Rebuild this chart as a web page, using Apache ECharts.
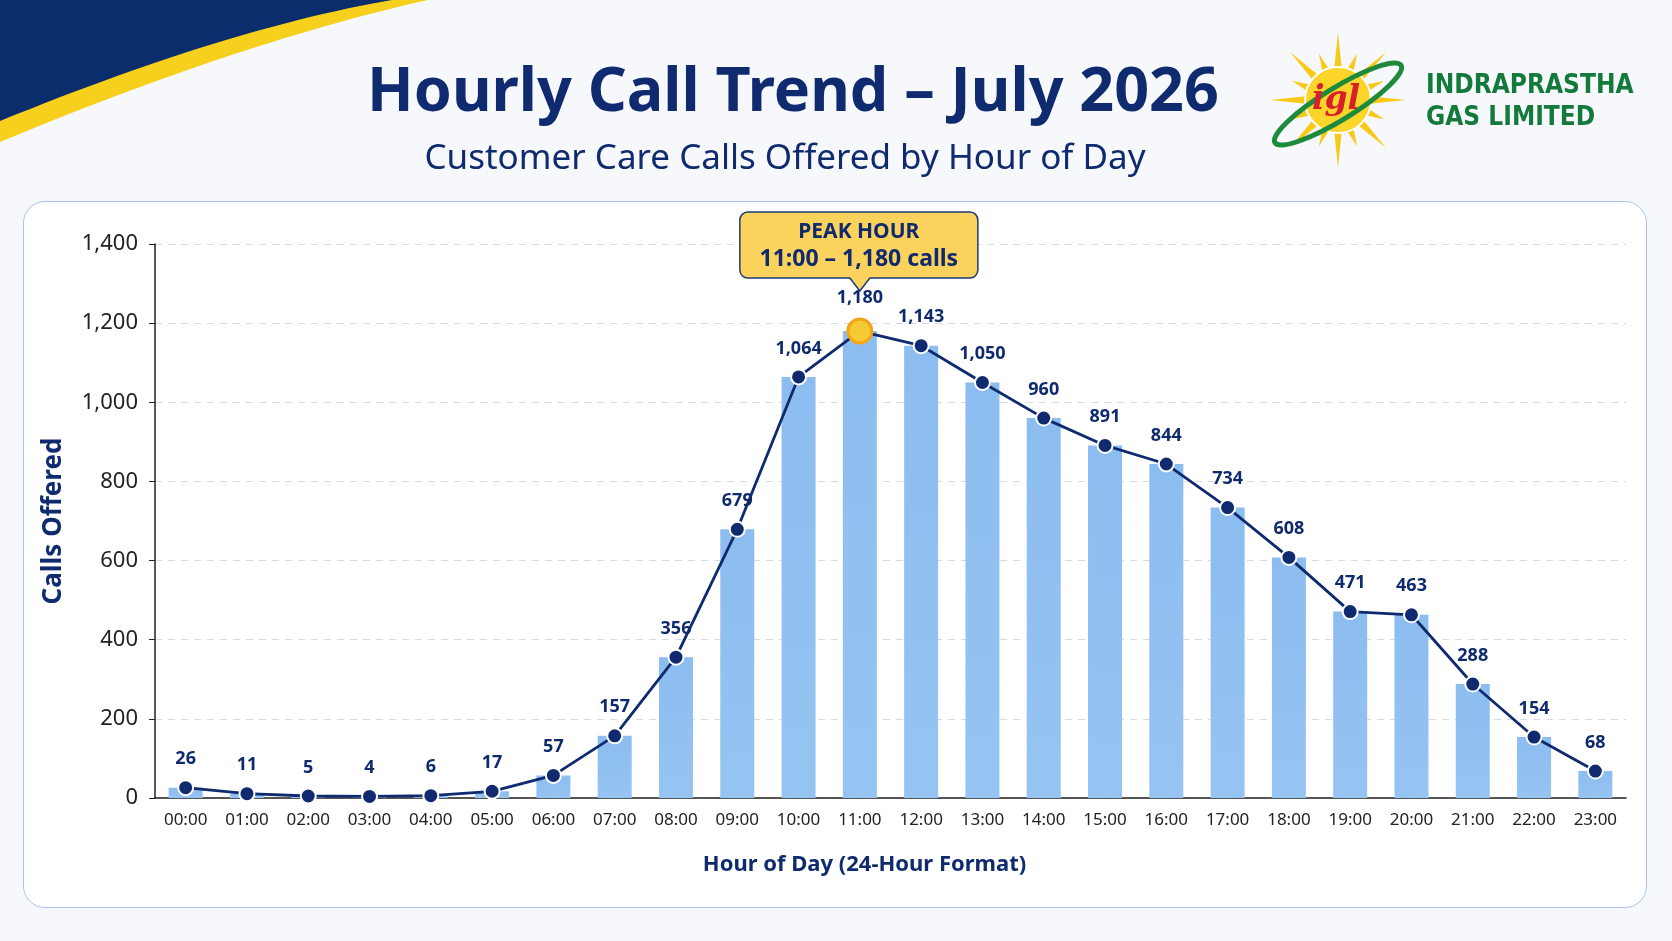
<!DOCTYPE html>
<html>
<head>
<meta charset="utf-8">
<script src="https://cdn.jsdelivr.net/npm/echarts@6/dist/echarts.min.js"></script>
<style>
  html, body { margin: 0; padding: 0; background: #f6f8fc; }
  #wrap { position: relative; width: 1672px; height: 941px; overflow: hidden; }
  #card {
    position: absolute; left: 23px; top: 201px; width: 1622px; height: 705px;
    background: #ffffff; border: 1.5px solid #aac4ee; border-radius: 22px;
  }
  #main { position: absolute; left: 0; top: 0; width: 1672px; height: 941px; }
</style>
</head>
<body>
<div id="wrap">
  <div id="card"></div>
  <div id="main"></div>
</div>
<script>
// 数据
var hours = ['00:00', '01:00', '02:00', '03:00', '04:00', '05:00', '06:00', '07:00',
  '08:00', '09:00', '10:00', '11:00', '12:00', '13:00', '14:00', '15:00',
  '16:00', '17:00', '18:00', '19:00', '20:00', '21:00', '22:00', '23:00'];
var callsOffered = [26, 11, 5, 4, 6, 17, 57, 157, 356, 679, 1064, 1180,
  1143, 1050, 960, 891, 844, 734, 608, 471, 463, 288, 154, 68];
var yTicks = [0, 200, 400, 600, 800, 1000, 1200, 1400];

var navy = '#0f2a6e';
var fmt = function (v) { return Number(v).toLocaleString('en-US'); };

// 峰值
var peakIdx = callsOffered.indexOf(Math.max.apply(null, callsOffered));

var lineData = callsOffered.map(function (v, i) {
  if (i !== peakIdx) return v;
  return {
    value: v,
    symbolSize: 24,
    itemStyle: { color: '#f7c933', borderColor: '#f2a516', borderWidth: 3 }
  };
});

// 左上角波浪
function curve(p0, p1, p2, n) {
  var pts = [];
  for (var i = 0; i <= n; i++) {
    var t = i / n, a = (1 - t) * (1 - t), b = 2 * (1 - t) * t, c = t * t;
    pts.push([a * p0[0] + b * p1[0] + c * p2[0], a * p0[1] + b * p1[1] + c * p2[1]]);
  }
  return pts;
}
var yellowPts = [[0, 0]].concat(curve([0, 142], [240, 42], [428, 0], 30));
var navyPts = [[0, 0]].concat(curve([0, 121], [228, 28], [392, 0], 30));

// 太阳光芒
var sunX = 1338, sunY = 100;
var rays = [];
for (var k = 0; k < 16; k++) {
  var ang = k * Math.PI / 8;
  var len = k % 2 === 0 ? 68 : 50;
  var w = 0.13;
  rays.push({
    type: 'polygon',
    shape: { points: [
      [sunX + 30 * Math.cos(ang - w), sunY + 30 * Math.sin(ang - w)],
      [sunX + len * Math.cos(ang), sunY + len * Math.sin(ang)],
      [sunX + 30 * Math.cos(ang + w), sunY + 30 * Math.sin(ang + w)]
    ] },
    style: { fill: '#f9c91a' }
  });
}

var myChart = echarts.init(document.getElementById('main'));

var option = {
  backgroundColor: 'transparent',
  animation: false,
  textStyle: { fontFamily: 'Noto Sans' },
  grid: { left: 155, right: 46, top: 244, bottom: 143 },
  xAxis: {
    type: 'category',
    data: hours,
    name: 'Hour of Day (24-Hour Format)',
    nameLocation: 'middle',
    nameGap: 56,
    nameTextStyle: { color: navy, fontSize: 22, fontWeight: 'bold', padding: [0, 52, 0, 0] },
    axisLine: { lineStyle: { color: '#222', width: 1.5 } },
    axisTick: { alignWithLabel: true, length: 5, lineStyle: { color: '#888' } },
    axisLabel: { color: '#222', fontSize: 17, margin: 14 }
  },
  yAxis: {
    type: 'value',
    min: yTicks[0],
    max: yTicks[yTicks.length - 1],
    interval: yTicks[1] - yTicks[0],
    name: 'Calls Offered',
    nameLocation: 'middle',
    nameGap: 88,
    nameTextStyle: { color: navy, fontSize: 26, fontWeight: 'bold' },
    axisLine: { show: true, lineStyle: { color: '#222', width: 1.5 } },
    axisTick: { show: true, length: 6, lineStyle: { color: '#222' } },
    axisLabel: { color: '#222', fontSize: 22, margin: 17, formatter: fmt },
    splitLine: { lineStyle: { color: '#d8dce2', type: [7, 6] } }
  },
  series: [
    {
      name: 'Calls Offered',
      type: 'bar',
      data: callsOffered,
      barWidth: 34,
      itemStyle: {
        color: new echarts.graphic.LinearGradient(0, 0, 0, 1, [
          { offset: 0, color: '#8cbdf0' },
          { offset: 1, color: '#96c4f2' }
        ])
      }
    },
    {
      name: 'Trend',
      type: 'line',
      data: lineData,
      symbol: 'circle',
      symbolSize: 15,
      z: 5,
      lineStyle: { color: navy, width: 2.8 },
      itemStyle: { color: navy, borderColor: '#fff', borderWidth: 2 },
      label: {
        show: true,
        position: 'top',
        distance: 11,
        color: navy,
        fontSize: 18,
        fontWeight: 'bold',
        formatter: function (p) { return fmt(p.value); }
      }
    }
  ]
};

myChart.setOption(option);

// 标题、标志和峰值标注
var tip = myChart.convertToPixel({ seriesIndex: 1 }, [peakIdx, callsOffered[peakIdx]]);
var tipX = tip[0], tipY = tip[1] - 40;
var boxW = 238, boxH = 66, boxL = tipX - 120, boxB = tipY - 13;

myChart.setOption({
  graphic: [
    { type: 'polygon', shape: { points: yellowPts }, style: { fill: '#f7cf1d' } },
    { type: 'polygon', shape: { points: navyPts }, style: { fill: '#0b2d6b' } },
    {
      type: 'text', x: 793, y: 94,
      style: {
        text: 'Hourly Call Trend \u2013 July 2026', fill: '#0f2a6e',
        font: 'bold 61px "Noto Sans"', align: 'center', verticalAlign: 'middle'
      }
    },
    {
      type: 'text', x: 785, y: 159,
      style: {
        text: 'Customer Care Calls Offered by Hour of Day', fill: '#0f2a6e',
        font: '35px "Noto Sans"', align: 'center', verticalAlign: 'middle'
      }
    },
    // 标志
    { type: 'group', children: rays },
    { type: 'circle', shape: { cx: sunX, cy: sunY, r: 33 }, style: { fill: '#fcd52a', stroke: '#fff', lineWidth: 2 } },
    {
      type: 'ellipse', x: sunX, y: sunY + 4, rotation: 0.55,
      shape: { cx: 0, cy: 0, rx: 74, ry: 16 },
      style: { fill: 'none', stroke: '#1e8a3c', lineWidth: 5 }
    },
    {
      type: 'text', x: sunX - 2, y: sunY,
      style: {
        text: 'igl', fill: '#d7202a', font: 'italic bold 33px "DejaVu Serif"',
        align: 'center', verticalAlign: 'middle'
      }
    },
    {
      type: 'text', x: 1426, y: 86,
      style: {
        text: 'INDRAPRASTHA', fill: '#137a3c',
        font: 'bold 26px "Liberation Sans Narrow", "DejaVu Sans Condensed"',
        align: 'left', verticalAlign: 'middle'
      }
    },
    {
      type: 'text', x: 1426, y: 118,
      style: {
        text: 'GAS LIMITED', fill: '#137a3c',
        font: 'bold 26px "Liberation Sans Narrow", "DejaVu Sans Condensed"',
        align: 'left', verticalAlign: 'middle'
      }
    },
    // 峰值标注
    {
      type: 'rect', z: 10,
      shape: { x: boxL, y: boxB - boxH, width: boxW, height: boxH, r: 8 },
      style: { fill: '#fbd35c', stroke: '#1d3a7a', lineWidth: 1.5 }
    },
    {
      type: 'polygon', z: 11,
      shape: { points: [[tipX - 10, boxB - 1], [tipX + 10, boxB - 1], [tipX, tipY]] },
      style: { fill: '#fbd35c' }
    },
    {
      type: 'polyline', z: 11,
      shape: { points: [[tipX - 10, boxB], [tipX, tipY], [tipX + 10, boxB]] },
      style: { stroke: '#1d3a7a', lineWidth: 1.5, fill: null }
    },
    {
      type: 'text', z: 12, x: boxL + boxW / 2, y: boxB - boxH + 20,
      style: {
        text: 'PEAK HOUR', fill: navy, font: 'bold 21px "Noto Sans"',
        align: 'center', verticalAlign: 'middle'
      }
    },
    {
      type: 'text', z: 12, x: boxL + boxW / 2, y: boxB - boxH + 47,
      style: {
        text: hours[peakIdx] + ' \u2013 ' + fmt(callsOffered[peakIdx]) + ' calls',
        fill: navy, font: 'bold 23px "Noto Sans"',
        align: 'center', verticalAlign: 'middle'
      }
    }
  ]
});
</script>
</body>
</html>
